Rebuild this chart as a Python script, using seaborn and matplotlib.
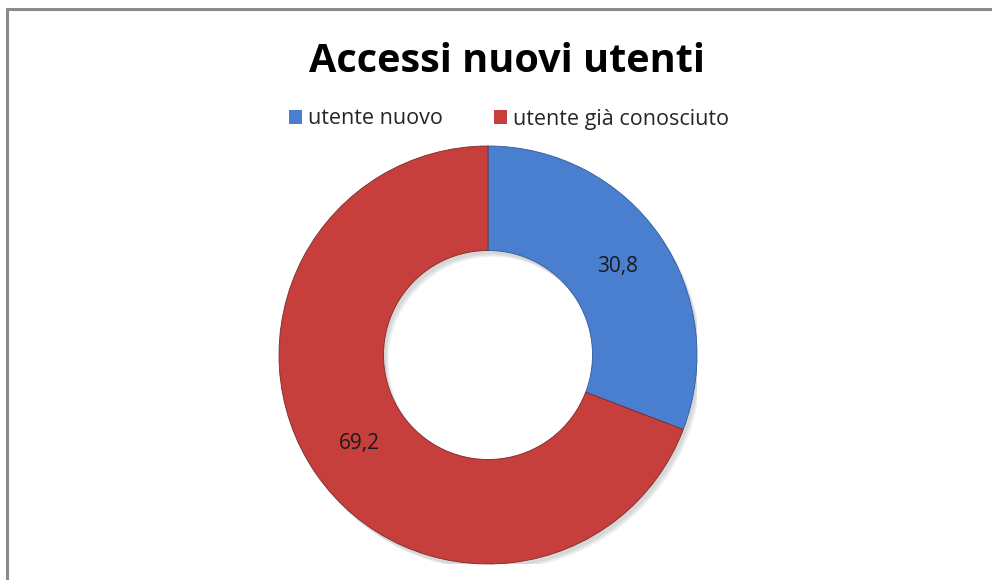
import matplotlib
matplotlib.use("Agg")
import matplotlib.pyplot as plt
import matplotlib.patches as mpatches
from matplotlib.lines import Line2D
import seaborn as sns

# Data
categories = ["utente nuovo", "utente già conosciuto"]
values = [30.8, 69.2]
colors = ["#4a7fd0", "#c73f3c"]
title = "Accessi nuovi utenti"

sns.set_theme(style="white")
plt.rcParams["font.family"] = ["Open Sans", "DejaVu Sans"]

W, H = 992, 580
fig = plt.figure(figsize=(W / 100, H / 100), dpi=100)
fig.patch.set_facecolor("white")

# outer frame of the chart area
fig.add_artist(Line2D([7 / W, 7 / W], [0, 1 - 9 / H], color="#8a8a8a", lw=2.2,
                      transform=fig.transFigure))
fig.add_artist(Line2D([7 / W, 1], [1 - 9 / H, 1 - 9 / H], color="#8a8a8a", lw=2.2,
                      transform=fig.transFigure))

cx, cy, r = 488, 355, 209
ax = fig.add_axes([(cx - r) / W, (H - cy - r) / H, 2 * r / W, 2 * r / H])
ax.set_xlim(-1.0, 1.0)
ax.set_ylim(-1.0, 1.0)
ax.set_aspect("equal")
ax.axis("off")

# soft drop shadow under the ring
for k, a in enumerate([0.05, 0.05, 0.06]):
    sh = mpatches.Wedge((0.012 + 0.006 * k, -0.018 - 0.006 * k), 1.0, 0, 360,
                        width=0.5, facecolor="black", alpha=a, edgecolor="none")
    ax.add_patch(sh)

wedges, texts, autotexts = ax.pie(
    values,
    colors=colors,
    startangle=90,
    counterclock=False,
    radius=1.0,
    autopct=lambda p: f"{p:.1f}".replace(".", ","),
    pctdistance=0.75,
    wedgeprops=dict(width=0.5, edgecolor="#7a2a28", linewidth=0.6),
    textprops=dict(fontsize=15, color="#1a1a1a"),
)
wedges[0].set_edgecolor("#2f5a9a")
ax.set_xlim(-1.0, 1.0)
ax.set_ylim(-1.0, 1.0)

fig.text(507 / W, 1 - 62 / H, title, ha="center", va="center",
         fontsize=28.5, fontweight="bold", color="black")

handles = [mpatches.Patch(facecolor=c, edgecolor="none", label=l)
           for c, l in zip(colors, categories)]
fig.legend(handles=handles, loc="center", bbox_to_anchor=(509 / W, 1 - 119 / H),
           ncol=2, frameon=False, fontsize=15.5, handlelength=0.6, handleheight=0.6,
           handletextpad=0.25, columnspacing=2.4)

fig.savefig("out.png", dpi=100, facecolor="white")
